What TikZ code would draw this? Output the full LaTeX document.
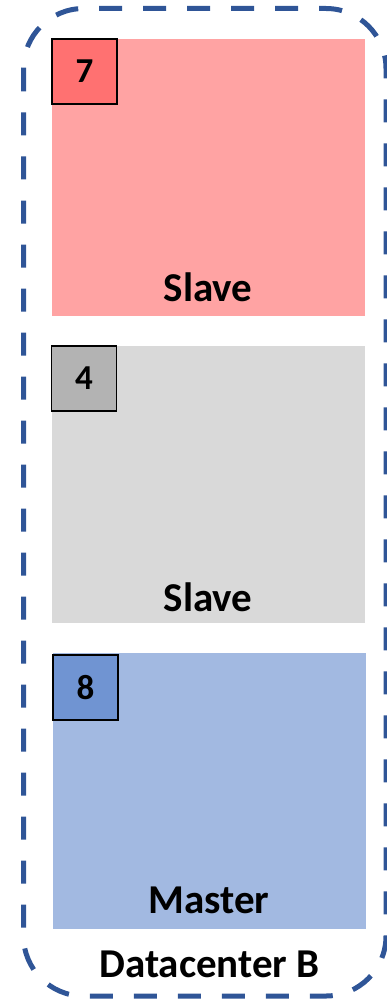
\documentclass[tikz,border=0pt]{standalone}
\usepackage{fontspec}
\setmainfont{Carlito}
\definecolor{dcblue}{HTML}{2F5597}
\definecolor{pinkbg}{HTML}{FFA3A3}
\definecolor{redbadge}{HTML}{FF7171}
\definecolor{graybg}{HTML}{D9D9D9}
\definecolor{graybadge}{HTML}{B3B3B3}
\definecolor{bluebg}{HTML}{A2B9E1}
\definecolor{bluebadge}{HTML}{7094D2}
\tikzset{
  panel/.style={anchor=north west, inner sep=0pt, outer sep=0pt, draw=none, minimum width=313pt, minimum height=277pt},
  badge/.style={anchor=north west, inner sep=0pt, outer sep=0pt, draw=black, line width=1.5pt, minimum width=65pt, minimum height=65pt, font=\fontsize{35}{35}\selectfont\bfseries},
  lbl/.style={anchor=base, inner sep=0pt, font=\fontsize{41}{41}\selectfont\bfseries},
  dcbox/.style={draw=dcblue, line width=5pt, dash pattern=on 23pt off 21pt, rounded corners=60pt}
}
\begin{document}
\begin{tikzpicture}[x=1pt,y=-1pt]
\useasboundingbox (0,0) rectangle (386,1003);
\draw[dcbox] (23.5,8.5) rectangle (386,996);
\node[panel, fill=pinkbg] (p1) at (52,39) {};
\node[panel, fill=graybg] (p2) at (51.5,346) {};
\node[panel, fill=bluebg, minimum height=276pt] (p3) at (53,653) {};
\node[badge, fill=redbadge] (b1) at (p1.north west) {7};
\node[badge, fill=graybadge] (b2) at (p2.north west) {4};
\node[badge, fill=bluebadge] (b3) at ([yshift=-2pt]p3.north west) {8};
\node[lbl] (l1) at (208,301) {Slave};
\node[lbl] (l2) at (208,611) {Slave};
\node[lbl] (l3) at (209,913) {Master};
\node[lbl] (dc) at (209.5,977) {Datacenter B};
\end{tikzpicture}
\end{document}
